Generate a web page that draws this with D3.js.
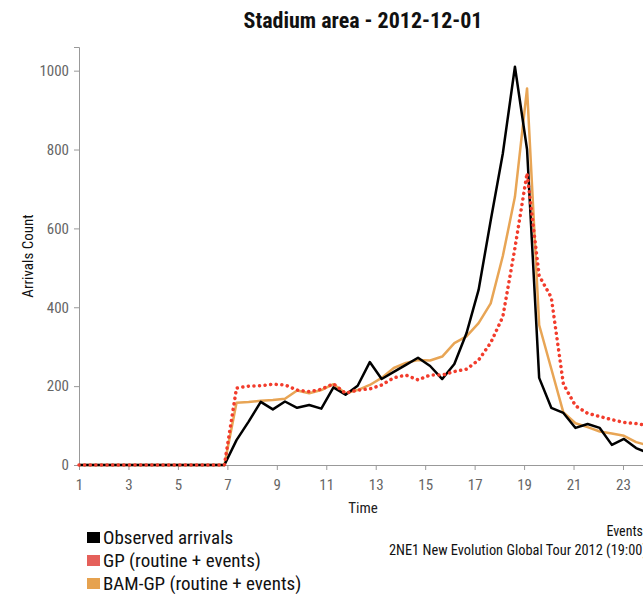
<!DOCTYPE html>
<html>
<head>
<meta charset="utf-8">
<script src="https://d3js.org/d3.v7.min.js"></script>
<style>
  body { margin: 0; background: #fff; }
  text { font-family: "Roboto Condensed", "Liberation Sans Narrow", "DejaVu Sans Condensed", Roboto, sans-serif; }
</style>
</head>
<body>
<script>
// time of day (hours), one sample per step
const times = [1.00, 1.49, 1.98, 2.47, 2.96, 3.45, 3.94, 4.43, 4.92, 5.41, 5.90, 6.39,
  6.88, 7.37, 7.86, 8.35, 8.84, 9.33, 9.82, 10.31, 10.80, 11.29, 11.78, 12.27,
  12.76, 13.24, 13.73, 14.22, 14.71, 15.20, 15.69, 16.18, 16.67, 17.16, 17.65, 18.14,
  18.63, 19.12, 19.61, 20.10, 20.59, 21.08, 21.57, 22.06, 22.55, 23.04, 23.53, 24.02];

const observed = [0, 0, 0, 0, 0, 0, 0, 0, 0, 0, 0, 0,
  0, 63, 110, 160, 141, 161, 145, 152, 143, 197, 178, 201,
  261, 218, 236, 254, 272, 251, 218, 256, 334, 444, 620, 790,
  1010, 800, 221, 145, 132, 94, 104, 94, 51, 66, 43, 30];

const gp = [0, 0, 0, 0, 0, 0, 0, 0, 0, 0, 0, 0,
  0, 195, 200, 201, 205, 203, 190, 186, 192, 206, 182, 190,
  193, 203, 221, 228, 216, 228, 228, 237, 243, 266, 310, 376,
  550, 740, 480, 425, 205, 150, 131, 123, 115, 108, 105, 100];

const bamgp = [0, 0, 0, 0, 0, 0, 0, 0, 0, 0, 0, 0,
  0, 158, 160, 163, 165, 168, 189, 182, 190, 205, 182, 190,
  203, 221, 246, 259, 266, 265, 275, 309, 326, 360, 410, 530,
  680, 955, 355, 244, 133, 106, 96, 85, 80, 74, 58, 50];

const xTicks = [1, 3, 5, 7, 9, 11, 13, 15, 17, 19, 21, 23];
const yTicks = [0, 200, 400, 600, 800, 1000];

const legendNames = ["Observed arrivals", "GP (routine + events)", "BAM-GP (routine + events)"];
const legendColors = ["#000000", "#e5605a", "#e6a24f"];
const eventLines = ["Events", "2NE1 New Evolution Global Tour 2012 (19:00)"];

const W = 643, H = 594;
const svg = d3.select("body").append("svg")
  .attr("width", W)
  .attr("height", H);

let x = d3.scaleLinear().domain([1, 24.9]).range([79, 79 + 23.9 * 24.727]);
let y = d3.scaleLinear().domain([0, 1060]).range([465, 47]);

// title
svg.append("text")
  .attr("x", 363)
  .attr("y", 28)
  .attr("text-anchor", "middle")
  .attr("font-size", 22)
  .attr("font-weight", "bold")
  .attr("fill", "#111")
  .text("Stadium area - 2012-12-01");

// axes
let xAxis = svg.append("g")
  .attr("transform", "translate(0,465)")
  .call(d3.axisBottom(x).tickValues(xTicks).tickFormat(d3.format("d")).tickSizeOuter(0).tickSize(5));
let yAxis = svg.append("g")
  .attr("transform", "translate(79,0)")
  .call(d3.axisLeft(y).tickValues(yTicks).tickFormat(d3.format("d")).tickSizeOuter(5).tickSize(5));

[xAxis, yAxis].forEach(a => {
  a.selectAll("path, line").attr("stroke", "#999");
  a.selectAll("text").attr("fill", "#666").attr("font-size", 15);
});
xAxis.selectAll("text").attr("dy", "1.1em");
yAxis.selectAll("text").attr("x", -10);

// axis titles
svg.append("text")
  .attr("x", 363)
  .attr("y", 513)
  .attr("text-anchor", "middle")
  .attr("font-size", 15)
  .attr("fill", "#222")
  .text("Time");

svg.append("text")
  .attr("transform", "translate(33,256) rotate(-90)")
  .attr("text-anchor", "middle")
  .attr("font-size", 15)
  .attr("fill", "#111")
  .text("Arrivals Count");

// lines
let line = d3.line()
  .x((d, i) => x(times[i]))
  .y(d => y(d));

svg.append("path")
  .datum(bamgp)
  .attr("d", line)
  .attr("fill", "none")
  .attr("stroke", "#e8a555")
  .attr("stroke-width", 2.5)
  .attr("stroke-linejoin", "round");

svg.append("path")
  .datum(observed)
  .attr("d", line)
  .attr("fill", "none")
  .attr("stroke", "#000")
  .attr("stroke-width", 2.5)
  .attr("stroke-linejoin", "round");

svg.append("path")
  .datum(gp)
  .attr("d", line)
  .attr("fill", "none")
  .attr("stroke", "#f23c2c")
  .attr("stroke-width", 3.5)
  .attr("stroke-linecap", "round")
  .attr("stroke-dasharray", "0.1,5.5");

// legend
legendNames.forEach((name, i) => {
  let ly = 537 + i * 23;
  svg.append("rect")
    .attr("x", 87)
    .attr("y", ly - 5)
    .attr("width", 13)
    .attr("height", 11)
    .attr("fill", legendColors[i]);
  svg.append("text")
    .attr("x", 103)
    .attr("y", ly)
    .attr("dominant-baseline", "central")
    .attr("font-size", 19)
    .attr("fill", "#111")
    .text(name);
});

// events note
svg.append("text")
  .attr("x", 643)
  .attr("y", 536)
  .attr("text-anchor", "end")
  .attr("font-size", 14)
  .attr("fill", "#111")
  .text(eventLines[0]);
svg.append("text")
  .attr("x", 647)
  .attr("y", 555)
  .attr("text-anchor", "end")
  .attr("font-size", 14.4)
  .attr("fill", "#111")
  .text(eventLines[1]);
</script>
</body>
</html>
